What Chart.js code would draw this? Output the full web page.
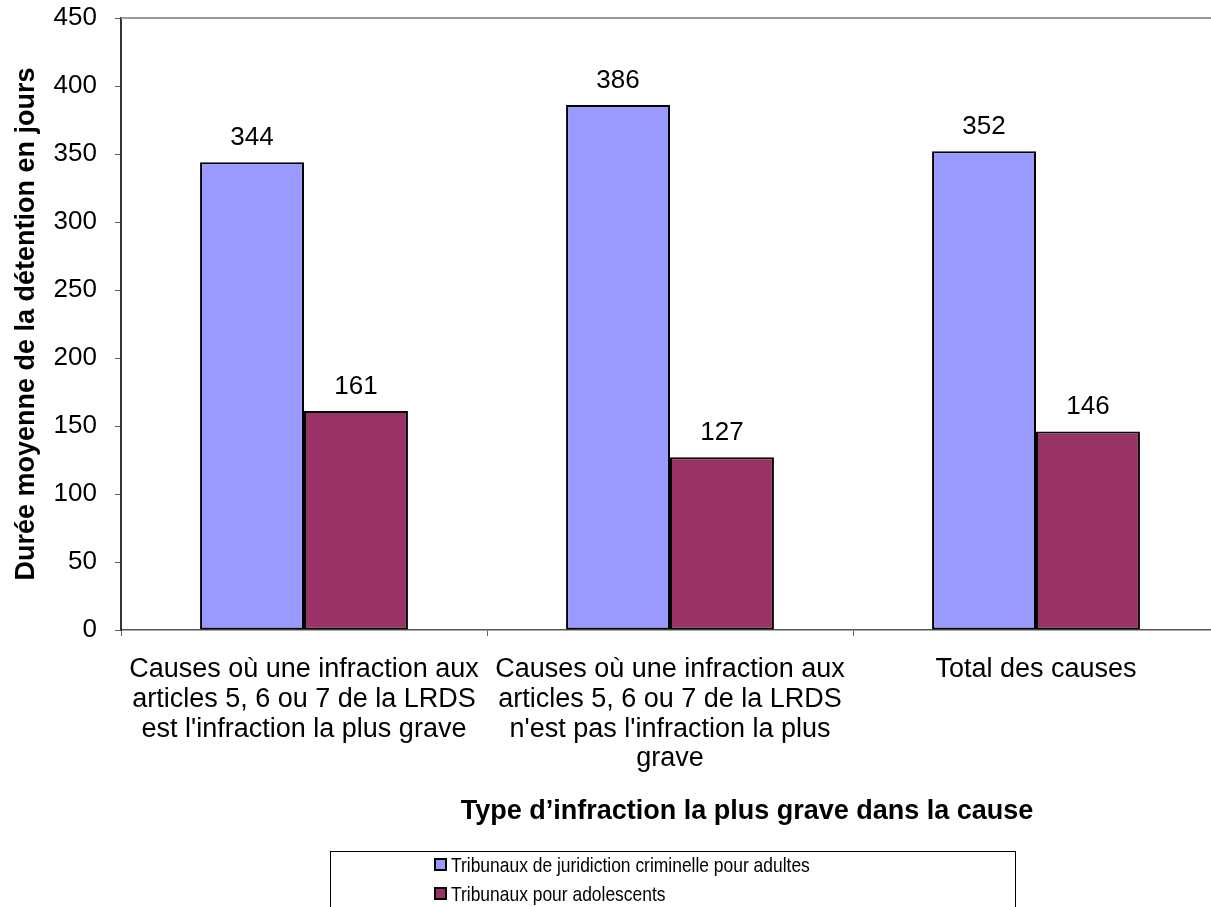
<!DOCTYPE html>
<html lang="fr">
<head>
<meta charset="utf-8">
<title>Durée moyenne de la détention</title>
<script src="https://cdn.jsdelivr.net/npm/chart.js@4/dist/chart.umd.min.js"></script>
<style>
  html, body { margin: 0; padding: 0; background: #ffffff; overflow: hidden; }
  #wrap { width: 1211px; height: 907px; overflow: hidden; position: relative; }
  canvas { display: block; }
</style>
</head>
<body>
<div id="wrap"><canvas id="chart" width="1222" height="907"></canvas></div>
<script>
// Categories (multi-line axis labels)
const categories = [
  ["Causes où une infraction aux", "articles 5, 6 ou 7 de la LRDS", "est l'infraction la plus grave"],
  ["Causes où une infraction aux", "articles 5, 6 ou 7 de la LRDS", "n'est pas l'infraction la plus", "grave"],
  ["Total des causes"]
];

// Average detention length in days
const adultCourts = [344, 386, 352];
const youthCourts = [161, 127, 146];

const seriesNames = [
  "Tribunaux de juridiction criminelle pour adultes",
  "Tribunaux pour adolescents"
];

const yAxisTitle = "Durée moyenne de la détention en jours";
const xAxisTitle = "Type d’infraction la plus grave dans la cause";
const yMin = 0, yMax = 450, yStep = 50;

const FONT = "'Liberation Sans', Arial, Helvetica, sans-serif";
Chart.defaults.font.family = FONT;
Chart.defaults.color = "#000000";

// Value labels above each bar
const valueLabels = {
  id: "valueLabels",
  afterDatasetsDraw(chart) {
    const ctx = chart.ctx;
    ctx.save();
    ctx.font = "26px " + FONT;
    ctx.fillStyle = "#000000";
    ctx.textAlign = "center";
    ctx.textBaseline = "alphabetic";
    chart.data.datasets.forEach((ds, i) => {
      const meta = chart.getDatasetMeta(i);
      meta.data.forEach((bar, j) => {
        ctx.fillText(String(ds.data[j]), bar.x, bar.y - 17);
      });
    });
    ctx.restore();
  }
};

// Grey frame line along the top of the plot area
const topFrame = {
  id: "topFrame",
  beforeDatasetsDraw(chart) {
    const { ctx, chartArea } = chart;
    ctx.save();
    ctx.strokeStyle = "#9a9a9a";
    ctx.lineWidth = 2;
    ctx.beginPath();
    ctx.moveTo(chartArea.left, chartArea.top);
    ctx.lineTo(chartArea.right + 5, chartArea.top);
    ctx.stroke();
    ctx.restore();
  }
};

// Horizontal axis title and boxed legend below the chart
const bottomBlock = {
  id: "bottomBlock",
  afterDraw(chart) {
    const ctx = chart.ctx;
    ctx.save();
    ctx.fillStyle = "#000000";
    ctx.font = "bold 27px " + FONT;
    ctx.textAlign = "center";
    ctx.textBaseline = "alphabetic";
    ctx.fillText(xAxisTitle, 747, 819);

    // legend frame
    ctx.strokeStyle = "#000000";
    ctx.lineWidth = 1;
    ctx.strokeRect(330.5, 851.5, 685, 80);

    ctx.textBaseline = "middle";
    chart.data.datasets.forEach((ds, i) => {
      const cy = 865 + i * 29;
      ctx.fillStyle = ds.backgroundColor;
      ctx.fillRect(435, cy - 6, 11, 11);
      ctx.strokeStyle = "#000000";
      ctx.lineWidth = 2;
      ctx.strokeRect(435, cy - 6, 11, 11);
      // condensed legend lettering
      ctx.save();
      ctx.translate(451, cy + 1);
      ctx.scale(0.83, 1);
      ctx.fillStyle = "#000000";
      ctx.textAlign = "left";
      ctx.font = "21px " + FONT;
      ctx.fillText(ds.label, 0, 0);
      ctx.restore();
    });
    ctx.restore();
  }
};

new Chart(document.getElementById("chart"), {
  type: "bar",
  data: {
    labels: categories,
    datasets: [
      {
        label: seriesNames[0],
        data: adultCourts,
        backgroundColor: "#9999FF",
        borderColor: "#000000",
        borderWidth: 2,
        borderSkipped: false
      },
      {
        label: seriesNames[1],
        data: youthCourts,
        backgroundColor: "#993366",
        borderColor: "#000000",
        borderWidth: 2,
        borderSkipped: false
      }
    ]
  },
  options: {
    responsive: false,
    animation: false,
    devicePixelRatio: 1,
    layout: { padding: { top: 18, right: 3, left: 0, bottom: 0 } },
    datasets: { bar: { categoryPercentage: 0.568, barPercentage: 1.0 } },
    plugins: {
      legend: { display: false },
      tooltip: { enabled: false },
      title: { display: false }
    },
    scales: {
      x: {
        offset: true,
        grid: {
          offset: true,
          drawOnChartArea: false,
          drawTicks: true,
          tickLength: 6,
          color: "#666666"
        },
        border: { color: "#555555", width: 1.5 },
        ticks: {
          padding: 19,
          maxRotation: 0,
          autoSkip: false,
          color: "#000000",
          font: { size: 27, lineHeight: 1.1 }
        },
        afterFit(scale) {
          scale.height = 277;
          scale.paddingLeft = 0;
          scale.paddingRight = 0;
        }
      },
      y: {
        min: yMin,
        max: yMax,
        grid: {
          drawOnChartArea: false,
          drawTicks: true,
          tickLength: 6,
          color: "#666666"
        },
        border: { color: "#333333", width: 2 },
        ticks: {
          stepSize: yStep,
          padding: 18,
          color: "#000000",
          font: { size: 26 }
        },
        title: {
          display: true,
          text: yAxisTitle,
          color: "#000000",
          font: { size: 27, weight: "bold", lineHeight: 1.2 },
          padding: { top: 10, bottom: 0 }
        },
        afterFit(scale) {
          scale.width = 121;
          scale.paddingTop = 0;
          scale.paddingBottom = 0;
        }
      }
    }
  },
  plugins: [valueLabels, topFrame, bottomBlock]
});
</script>
</body>
</html>
